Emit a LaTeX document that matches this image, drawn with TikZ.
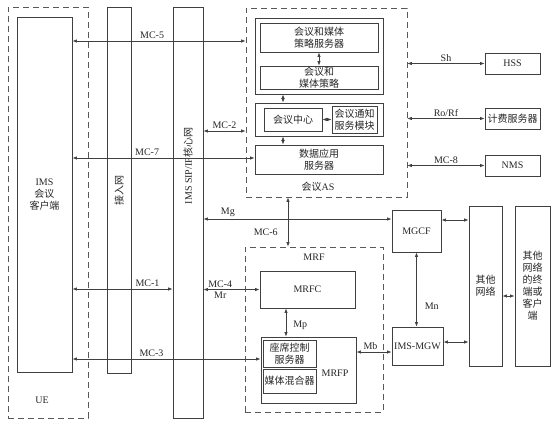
\documentclass[tikz,border=0pt]{standalone}
\usepackage{fontspec}
\setmainfont{Liberation Serif}
\newfontfamily\cjk{Noto Sans CJK SC}
\usetikzlibrary{arrows.meta}

\begin{document}
\begin{tikzpicture}[x=1pt,y=-1pt,
  font=\fontsize{10}{12}\selectfont,
  box/.style={draw=black!75, line width=0.9pt, inner sep=0pt, align=center, text=black!85},
  grp/.style={draw=black!65, line width=0.8pt, dash pattern=on 6pt off 4pt, inner sep=0pt},
  zh/.style={font=\fontsize{10}{12}\selectfont\cjk},
  lbl/.style={text=black!85, inner sep=2pt},
  link/.style={draw=black!75, line width=0.7pt, {Latex[length=4.5pt,width=3.5pt]}-{Latex[length=4.5pt,width=3.5pt]}}]
  \useasboundingbox (0,0) rectangle (560,426);
  % UE side
  \node[grp, minimum width=80pt, minimum height=411pt] (ue) at (48,212.5) {};
  \node[lbl] (uelbl) at (42,400) {UE};
  \node[box, minimum width=55pt, minimum height=355pt] (client) at (44.5,194.5)
    {IMS\\{\cjk 会议}\\{\cjk 客户端}};
  \node[box, minimum width=24pt, minimum height=366pt] (access) at (119,190) {};
  \node[lbl, zh, rotate=90] (accesslbl) at (119,190) {接入网};
  \node[box, minimum width=30pt, minimum height=411pt] (core) at (188,212.5) {};
  \node[lbl, rotate=90] (corelbl) at (188,166) {IMS SIP/IP{\cjk 核心网}};
  % conference AS
  \node[grp, minimum width=161pt, minimum height=189pt] (as) at (326.5,102.5) {};
  \node[lbl] (aslbl) at (318,187) {{\cjk 会议}AS};
  \node[box, minimum width=128pt, minimum height=76pt] (polgrp) at (319,56) {};
  \node[box, zh, minimum width=118pt, minimum height=29pt] (polsrv) at (319,37.5) {会议和媒体\\策略服务器};
  \node[box, zh, minimum width=118pt, minimum height=23pt] (pol) at (319,77.5) {会议和\\媒体策略};
  \node[box, minimum width=128pt, minimum height=33pt] (ctrgrp) at (319,119.5) {};
  \node[box, zh, minimum width=58pt, minimum height=23pt] (ctr) at (293,119.5) {会议中心};
  \node[box, zh, minimum width=45pt, minimum height=27pt] (notify) at (354.5,119.5) {会议通知\\服务模块};
  \node[box, zh, minimum width=128pt, minimum height=29pt] (data) at (319,159.5) {数据应用\\服务器};
  % servers on the right
  \node[box, minimum width=55pt, minimum height=21pt] (hss) at (512.5,63.5) {HSS};
  \node[box, zh, minimum width=55pt, minimum height=21pt] (bill) at (512.5,118.5) {计费服务器};
  \node[box, minimum width=55pt, minimum height=21pt] (nms) at (512.5,165.5) {NMS};
  % MRF
  \node[grp, minimum width=138pt, minimum height=165pt] (mrf) at (314,329.5) {};
  \node[lbl] (mrflbl) at (314,257) {MRF};
  \node[box, minimum width=95pt, minimum height=37pt] (mrfc) at (307.5,289.5) {MRFC};
  \node[box, minimum width=95pt, minimum height=66pt] (mrfp) at (308.5,370) {};
  \node[lbl] (mrfplbl) at (335,373) {MRFP};
  \node[box, zh, minimum width=53pt, minimum height=27pt] (seat) at (289.5,353.5) {座席控制\\服务器};
  \node[box, zh, minimum width=53pt, minimum height=24pt] (mixer) at (289.5,381) {媒体混合器};
  % gateways and other networks
  \node[box, minimum width=49pt, minimum height=42pt] (mgcf) at (416.5,231) {MGCF};
  \node[box, minimum width=51pt, minimum height=38pt] (mgw) at (417.5,346) {IMS-MGW};
  \node[box, zh, minimum width=33pt, minimum height=160pt] (other) at (485.5,286) {其他\\网络};
  \node[box, zh, minimum width=35pt, minimum height=160pt] (term) at (532.5,286)
    {其他\\网络\\的终\\端或\\客户\\端};
  % connectors
  \draw[link] (client.east |- 0,41) -- node[lbl, pos=.46, above] {MC-5} (as.west |- 0,41);
  \draw[link] (core.east |- 0,131) -- node[lbl, above] {MC-2} (as.west |- 0,131);
  \draw[link] (client.east |- 0,158) -- node[lbl, pos=.41, above] {MC-7} (data.west |- 0,158);
  \draw[link] (as.east |- hss.west) -- node[lbl, above] {Sh} (hss.west);
  \draw[link] (as.east |- bill.west) -- node[lbl, above] {Ro/Rf} (bill.west);
  \draw[link] (as.east |- nms.west) -- node[lbl, above] {MC-8} (nms.west);
  \draw[link] (polsrv) -- (pol);
  \draw[link] (283,0 |- polgrp.south) -- (283,0 |- ctrgrp.north);
  \draw[link] (283,0 |- ctrgrp.south) -- (283,0 |- data.north);
  \draw[link] (ctr) -- (notify);
  \draw[link] (288,0 |- as.south) -- node[lbl, pos=.7, left=8pt] {MC-6} (288,0 |- mrf.north);
  \draw[link] (core.east |- 0,219) -- node[lbl, pos=.13, above] {Mg} (mgcf.west |- 0,219);
  \draw[link] (client.east |- 0,289) -- node[lbl, pos=.75, above] {MC-1} (core.west |- 0,289);
  \draw[link] (core.east |- mrfc.west) -- node[lbl, pos=.3, above] {MC-4}
    node[lbl, pos=.3, below] {Mr} (mrfc.west);
  \draw[link] (client.east |- 0,359) -- node[lbl, pos=.42, above] {MC-3} (mrfp.west |- 0,359);
  \draw[link] (286,0 |- mrfc.south) -- node[lbl, pos=.6, right=5pt] {Mp} (286,0 |- mrfp.north);
  \draw[link] (mrfp.east |- 0,352) -- node[lbl, pos=.4, above] {Mb} (mgw.west |- 0,352);
  \draw[link] (mgcf.south) -- node[lbl, pos=.73, right=6pt] {Mn} (mgcf.south |- mgw.north);
  \draw[link] (mgcf.east |- 0,220) -- (other.west |- 0,220);
  \draw[link] (mgw.east |- 0,342) -- (other.west |- 0,342);
  \draw[link] (other.east |- 0,296) -- (term.west |- 0,296);
\end{tikzpicture}
\end{document}
